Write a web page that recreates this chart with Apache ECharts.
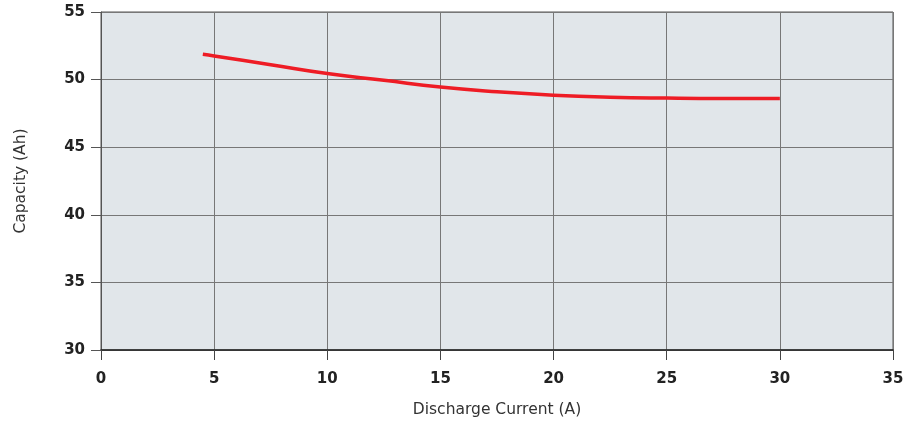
<!DOCTYPE html>
<html>
<head>
<meta charset="utf-8">
<script src="https://cdn.jsdelivr.net/npm/echarts@6/dist/echarts.min.js"></script>
<style>
  html, body { margin: 0; padding: 0; background: #fff; }
  #chart { width: 920px; height: 421px; }
</style>
</head>
<body>
<div id="chart"></div>
<script>
var currentA = [4.5, 5, 7.5, 10, 12.5, 15, 17.5, 20, 22.5, 25, 27.5, 30];
var capacityAh = [51.87, 51.75, 51.1, 50.45, 49.95, 49.45, 49.1, 48.85, 48.7, 48.63, 48.6, 48.6];

var chart = echarts.init(document.getElementById('chart'));

var points = currentA.map(function (x, i) { return [x, capacityAh[i]]; });

var labelStyle = {
  color: '#222',
  fontFamily: 'DejaVu Sans',
  fontWeight: 'bold',
  fontSize: 15
};

var nameStyle = { color: '#333', fontFamily: 'DejaVu Sans', fontSize: 15.5 };

var option = {
  animation: false,
  grid: {
    left: 101,
    right: 27,
    top: 12,
    bottom: 71,
    outerBoundsMode: 'none',
    show: true,
    backgroundColor: '#e1e6ea',
    borderColor: '#555',
    borderWidth: 1
  },
  xAxis: {
    type: 'value',
    min: 0,
    max: 35,
    interval: 5,
    name: 'Discharge Current (A)',
    nameLocation: 'middle',
    nameGap: 52,
    nameTextStyle: nameStyle,
    axisLine: { show: true, lineStyle: { color: '#222', width: 1.5 } },
    axisTick: { show: true, inside: false, length: 10, lineStyle: { color: '#444', width: 1 } },
    axisLabel: Object.assign({ margin: 22 }, labelStyle),
    splitLine: { show: true, lineStyle: { color: '#777', width: 1 } }
  },
  yAxis: {
    type: 'value',
    min: 30,
    max: 55,
    interval: 5,
    name: 'Capacity (Ah)',
    nameLocation: 'middle',
    nameGap: 72,
    nameTextStyle: nameStyle,
    axisLine: { show: true, lineStyle: { color: '#555', width: 1 } },
    axisTick: { show: true, length: 10, lineStyle: { color: '#555' } },
    axisLabel: Object.assign({ margin: 16 }, labelStyle),
    splitLine: { show: true, lineStyle: { color: '#777', width: 1 } }
  },
  series: [{
    type: 'line',
    data: points,
    smooth: true,
    symbol: 'none',
    lineStyle: { color: '#ee1c25', width: 3.5 }
  }]
};

chart.setOption(option);
</script>
</body>
</html>
